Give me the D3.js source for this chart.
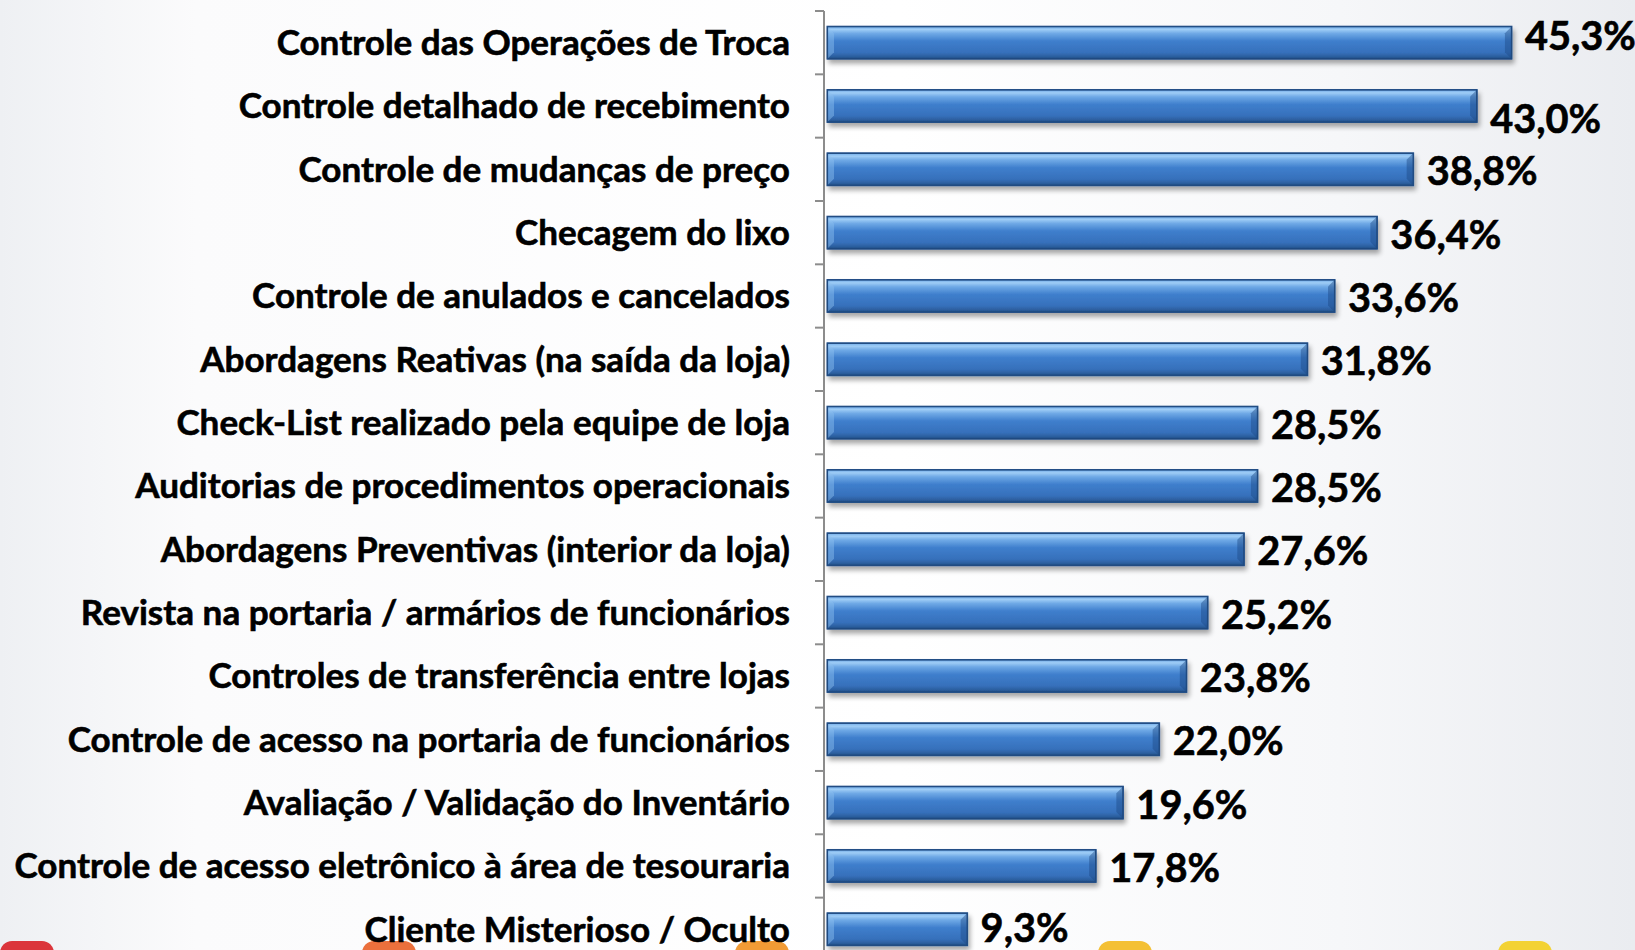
<!DOCTYPE html>
<html>
<head>
<meta charset="utf-8">
<script src="https://cdn.jsdelivr.net/npm/d3@7"></script>
<style>
  html, body { margin: 0; padding: 0; overflow: hidden; }
  svg { display: block; }
  .cat, .val { font-family: Lato, "Open Sans", sans-serif; font-weight: 700; fill: #000; stroke: #000; stroke-width: 0.6px; }
</style>
</head>
<body>
<script>
// categories top to bottom
const categories = [
  'Controle das Operações de Troca',
  'Controle detalhado de recebimento',
  'Controle de mudanças de preço',
  'Checagem do lixo',
  'Controle de anulados e cancelados',
  'Abordagens Reativas (na saída da loja)',
  'Check-List realizado pela equipe de loja',
  'Auditorias de procedimentos operacionais',
  'Abordagens Preventivas (interior da loja)',
  'Revista na portaria / armários de funcionários',
  'Controles de transferência entre lojas',
  'Controle de acesso na portaria de funcionários',
  'Avaliação / Validação do Inventário',
  'Controle de acesso eletrônico à área de tesouraria',
  'Cliente Misterioso / Oculto'
];
const values = [45.3, 43.0, 38.8, 36.4, 33.6, 31.8, 28.5, 28.5, 27.6, 25.2, 23.8, 22.0, 19.6, 17.8, 9.3];
const valueLabels = ['45,3%', '43,0%', '38,8%', '36,4%', '33,6%', '31,8%', '28,5%', '28,5%', '27,6%', '25,2%', '23,8%', '22,0%', '19,6%', '17,8%', '9,3%'];
// decorative blobs peeking in at the bottom edge
const blobColors = ['#d7141a', '#e8571a', '#ef8a12', '#f2b511', '#f3cd12'];

const W = 1635, H = 950;
const axisX = 824;

const svg = d3.select('body').append('svg')
    .attr('width', W)
    .attr('height', H);

const defs = svg.append('defs');

const bg = defs.append('linearGradient').attr('id', 'bg').attr('x1', 0).attr('x2', 1).attr('y1', 0).attr('y2', 0);
bg.append('stop').attr('offset', '0%').attr('stop-color', '#eef0f3');
bg.append('stop').attr('offset', '12%').attr('stop-color', '#fbfbfc');
bg.append('stop').attr('offset', '55%').attr('stop-color', '#ffffff');
bg.append('stop').attr('offset', '82%').attr('stop-color', '#f6f7f9');
bg.append('stop').attr('offset', '100%').attr('stop-color', '#eaecf0');

const barGrad = defs.append('linearGradient').attr('id', 'barGrad').attr('x1', 0).attr('x2', 0).attr('y1', 0).attr('y2', 1);
[['0%', '#6aa6e6'], ['10%', '#9fcdf6'], ['22%', '#6fa9e6'], ['45%', '#3f7fcd'], ['80%', '#3670bb'], ['92%', '#2c5f9f'], ['100%', '#1f4b80']]
  .forEach(s => barGrad.append('stop').attr('offset', s[0]).attr('stop-color', s[1]));

const shadow = defs.append('filter').attr('id', 'shadow').attr('x', '-5%').attr('y', '-30%').attr('width', '110%').attr('height', '180%');
shadow.append('feGaussianBlur').attr('in', 'SourceAlpha').attr('stdDeviation', 2.5);
shadow.append('feOffset').attr('dx', 2).attr('dy', 4).attr('result', 'b');
shadow.append('feComponentTransfer').append('feFuncA').attr('type', 'linear').attr('slope', 0.35);
const merge = shadow.append('feMerge');
merge.append('feMergeNode');
merge.append('feMergeNode').attr('in', 'SourceGraphic');

svg.append('rect').attr('width', W).attr('height', H).attr('fill', 'url(#bg)');

// bottom decorations
svg.selectAll('.blob')
  .data(blobColors)
  .enter().append('rect')
    .attr('class', 'blob')
    .attr('x', (d, i) => [0, 362, 735, 1098, 1498][i])
    .attr('y', 941)
    .attr('width', 54)
    .attr('height', 40)
    .attr('rx', 12)
    .attr('fill', d => d)
    .attr('opacity', 0.85);

const y = d3.scaleBand()
    .domain(categories)
    .range([11, 11 + 63.33 * categories.length])
    .paddingInner(0.48)
    .paddingOuter(0.24);

const x = d3.scaleLinear()
    .domain([0, 50])
    .range([827, 827 + 50 * 15.12]);

// axis with ticks at band boundaries
const step = y.step();
const boundaries = d3.range(categories.length + 1).map(i => y.range()[0] + i * step);
const axis = svg.append('g').attr('class', 'axis');
axis.append('line')
    .attr('x1', axisX).attr('x2', axisX)
    .attr('y1', boundaries[0]).attr('y2', H)
    .attr('stroke', '#8c8c8c').attr('stroke-width', 2);
axis.selectAll('.tick')
  .data(boundaries)
  .enter().append('line')
    .attr('x1', axisX - 9).attr('x2', axisX)
    .attr('y1', d => d).attr('y2', d => d)
    .attr('stroke', '#8c8c8c').attr('stroke-width', 2);

// bars
const bev = 7;
const bars = svg.selectAll('.bar')
  .data(values)
  .enter().append('g')
    .attr('class', 'bar');

bars.append('rect')
    .attr('x', x(0))
    .attr('y', (d, i) => y(categories[i]))
    .attr('width', d => x(d) - x(0))
    .attr('height', y.bandwidth())
    .attr('fill', 'url(#barGrad)')
    .attr('stroke', '#2a568f')
    .attr('stroke-width', 1)
    .attr('filter', 'url(#shadow)');

// bevel facets on both ends
bars.append('path')
    .attr('d', (d, i) => {
      const x0 = x(0), y0 = y(categories[i]), y1 = y0 + y.bandwidth();
      return `M${x0},${y0}L${x0 + bev},${y0 + bev}L${x0 + bev},${y1 - bev}L${x0},${y1}Z`;
    })
    .attr('fill', '#8fc0ef').attr('opacity', 0.45);
bars.append('path')
    .attr('d', (d, i) => {
      const x1 = x(d), y0 = y(categories[i]), y1 = y0 + y.bandwidth();
      return `M${x1},${y0}L${x1 - bev},${y0 + bev}L${x1 - bev},${y1 - bev}L${x1},${y1}Z`;
    })
    .attr('fill', '#1d4a85').attr('opacity', 0.45);
bars.append('rect')
    .attr('x', x(0) + 0.5)
    .attr('y', (d, i) => y(categories[i]) + 0.5)
    .attr('width', d => x(d) - x(0) - 1)
    .attr('height', y.bandwidth() - 1)
    .attr('fill', 'none')
    .attr('stroke', '#1f4a80')
    .attr('stroke-width', 1.2);

// category labels, sized so that the widest one fills the left margin
const labels = svg.selectAll('.cat')
  .data(categories)
  .enter().append('text')
    .attr('class', 'cat')
    .attr('x', 790)
    .attr('y', d => y(d) + y.bandwidth() / 2)
    .attr('dy', '0.35em')
    .attr('text-anchor', 'end')
    .style('font-size', '30px')
    .text(d => d);

let widest = 0;
labels.each(function() { widest = Math.max(widest, this.getComputedTextLength()); });
const catSize = 30 * 776 / widest;
labels.style('font-size', catSize + 'px');

const nudge = i => i === 0 ? -7 : i === 1 ? 13 : i === values.length - 1 ? -1 : 2;
svg.selectAll('.val')
  .data(values)
  .enter().append('text')
    .attr('class', 'val')
    .attr('x', d => x(d) + 13)
    .attr('y', (d, i) => y(categories[i]) + y.bandwidth() / 2 + nudge(i))
    .attr('dy', '0.35em')
    .style('font-size', (catSize * 34 / 30) + 'px')
    .text((d, i) => valueLabels[i]);
</script>
</body>
</html>
